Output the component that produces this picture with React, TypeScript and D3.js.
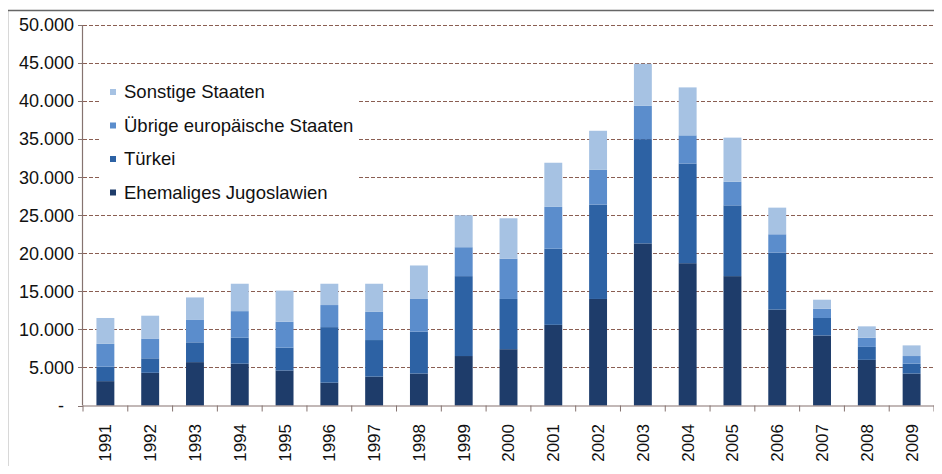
import React from "react";
import * as d3 from "d3";

const years = ["1991","1992","1993","1994","1995","1996","1997","1998","1999","2000","2001","2002","2003","2004","2005","2006","2007","2008","2009"];
const jugoslawien = [3200,4300,5700,5500,4600,3000,3800,4200,6500,7400,10600,14000,21300,18700,17000,12600,9200,6000,4200];
const tuerkei = [1900,1900,2600,3400,3000,7300,4800,5500,10500,6600,10000,12400,13700,13100,9300,7500,2300,1700,1300];
const europa = [3000,2600,3000,3500,3400,2900,3700,4300,3800,5300,5500,4600,4400,3700,3100,2400,1200,1200,1000];
const sonstige = [3400,3000,2900,3600,4100,2800,3700,4400,4200,5300,5800,5100,5500,6300,5800,3500,1200,1500,1400];

const seriesNames = ["Ehemaliges Jugoslawien","Türkei","Übrige europäische Staaten","Sonstige Staaten"];
const seriesColors = ["#1e3c6a","#2d62a4","#5b8dcc","#a6c2e3"];
const yTicks = [0,5000,10000,15000,20000,25000,30000,35000,40000,45000,50000];

const W = 942, H = 474;
const left = 83, right = 934, top = 25, bottom = 405.5;
const font = "'Liberation Sans', Arial, sans-serif";

export default function App() {
  const x = d3.scaleBand<string>().domain(years).range([left, right]).paddingInner(0.6).paddingOuter(0.3);
  const y = d3.scaleLinear().domain([0, 50000]).range([bottom, top]);
  const table = years.map((yr, i) => ({ year: yr, s0: jugoslawien[i], s1: tuerkei[i], s2: europa[i], s3: sonstige[i] }));
  const stack = d3.stack<any>().keys(["s0","s1","s2","s3"])(table);
  const fmt = (v: number) => v === 0 ? "-" : d3.format(",")(v).replace(/,/g, ".");
  const step = x.step();
  const legendRows = [3,2,1,0];

  return (
    <div style={{ margin: -8 }}>
      <svg width={W} height={H} style={{ display: "block", background: "#fff" }} fontFamily={font}>
        <rect x={7.5} y={10.5} width={W + 20} height={H + 20} fill="#fff" stroke="#666" strokeWidth={1.5} />
        {yTicks.filter(t => t > 0).map(t => (
          <line key={"g" + t} x1={left} x2={right} y1={Math.round(y(t)) + 0.5} y2={Math.round(y(t)) + 0.5}
            stroke="#8a5e52" strokeWidth={1} strokeDasharray="4 2" />
        ))}
        {/* legend background */}
        <rect x={100} y={70} width={257} height={142} fill="#fff" />
        {stack.map((s, si) => (
          <g key={si} fill={seriesColors[si]}>
            {s.map((d: any, i: number) => (
              <rect key={i} x={x(years[i])} width={x.bandwidth()} y={y(d[1])} height={y(d[0]) - y(d[1])} />
            ))}
          </g>
        ))}
        {/* axes */}
        <line x1={left - 0.5} x2={left - 0.5} y1={top} y2={bottom} stroke="#857370" strokeWidth={1.2} />
        <line x1={left} x2={right} y1={bottom + 0.5} y2={bottom + 0.5} stroke="#857370" strokeWidth={1.2} />
        {yTicks.map(t => (
          <line key={"yt" + t} x1={left - 5} x2={left} y1={Math.round(y(t)) + 0.5} y2={Math.round(y(t)) + 0.5} stroke="#857370" />
        ))}
        {d3.range(years.length + 1).map(i => (
          <line key={"xt" + i} x1={left + i * step} x2={left + i * step} y1={bottom} y2={bottom + 6} stroke="#857370" />
        ))}
        {yTicks.map(t => (
          <text key={"yl" + t} x={t === 0 ? 64 : 74} y={y(t)} dy="0.35em" textAnchor="end" fontSize={18} fill="#111">{fmt(t)}</text>
        ))}
        {years.map(yr => {
          const cx = (x(yr) as number) + x.bandwidth() / 2;
          return (
            <text key={"xl" + yr} transform={`translate(${cx},${424}) rotate(-90)`} textAnchor="end" dy="0.35em" fontSize={17} fill="#111">{yr}</text>
          );
        })}
        {legendRows.map((si, r) => (
          <g key={"lg" + si} transform={`translate(110,${92 + r * 33.5})`}>
            <rect x={0} y={-3} width={6} height={6} fill={seriesColors[si]} />
            <text x={14} y={0} dy="0.35em" fontSize={18.5} fill="#111">{seriesNames[si]}</text>
          </g>
        ))}
      </svg>
    </div>
  );
}
